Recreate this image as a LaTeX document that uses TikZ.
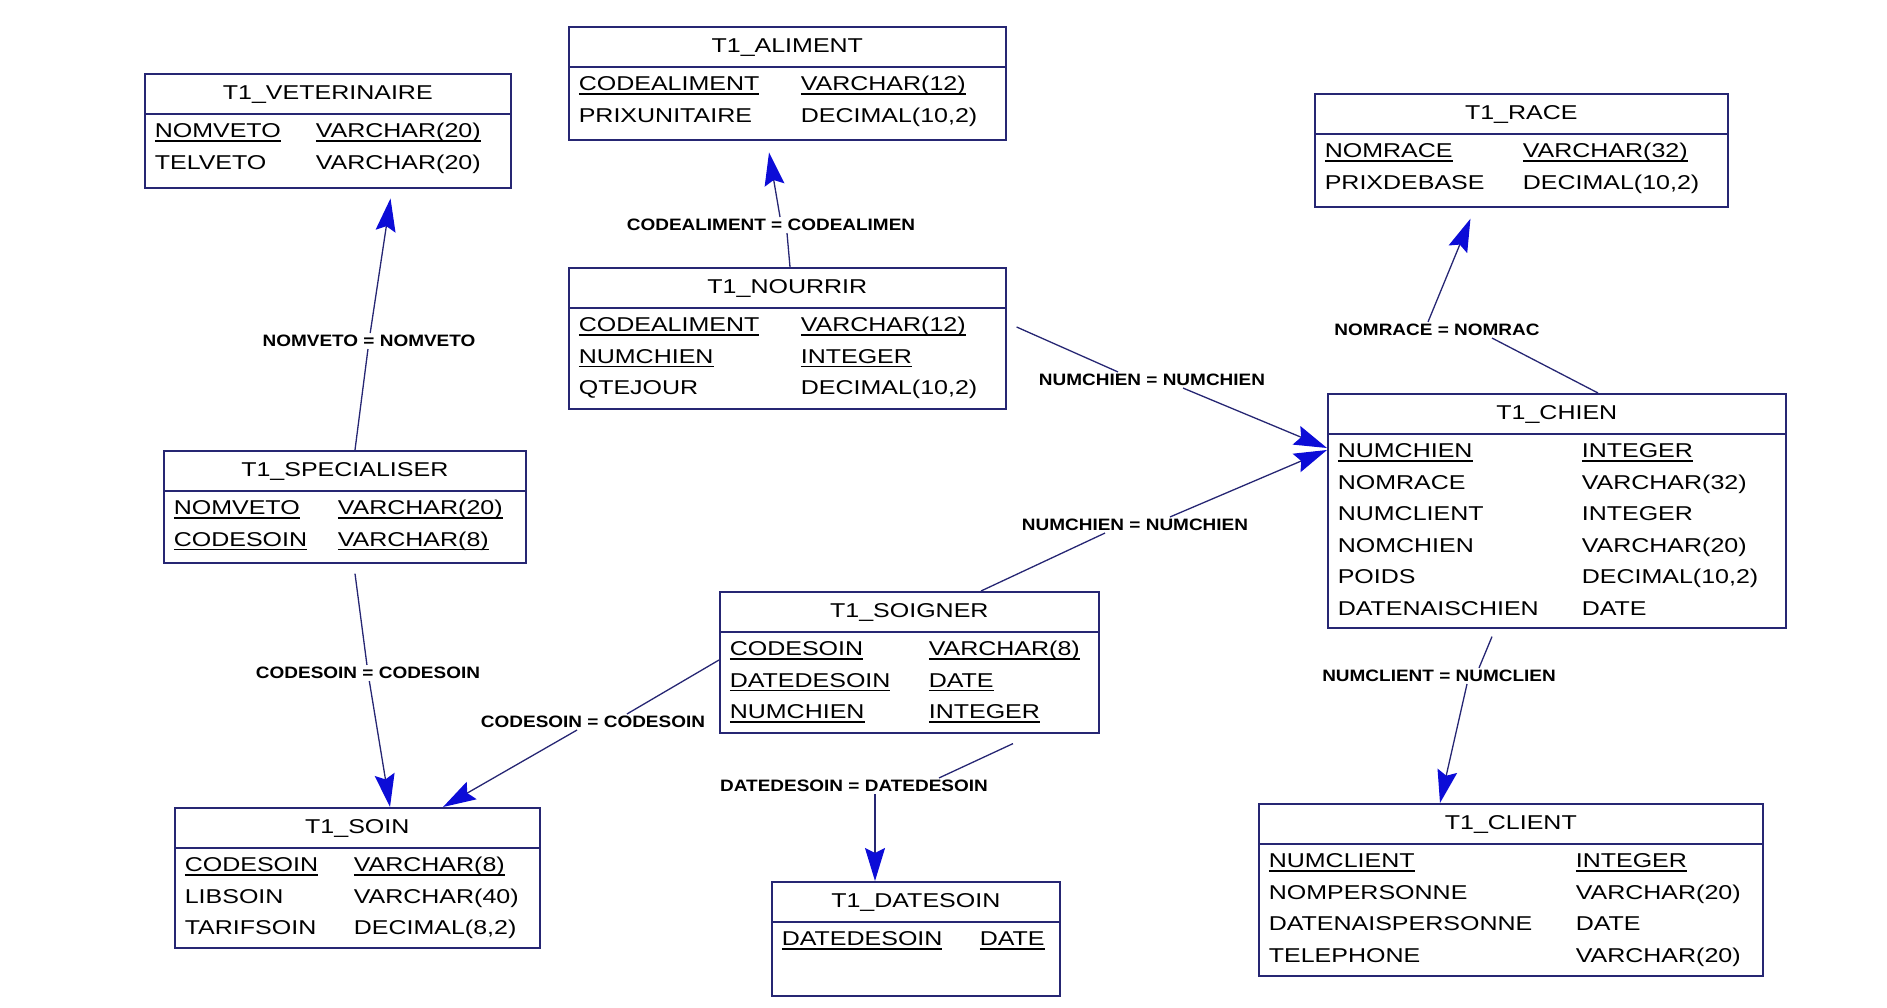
\documentclass[tikz,border=0pt]{standalone}
\usepackage{fontspec}
\setmainfont[FakeStretch=1.25]{Liberation Sans}
\newfontfamily\lblfont[FakeStretch=1.15]{Liberation Sans}
\usepackage{array}
\usepackage{colortbl}
\usetikzlibrary{arrows.meta}
\definecolor{erNavy}{RGB}{38,38,115}
\definecolor{erBlue}{RGB}{12,12,215}
\setlength{\arrayrulewidth}{1.8pt}
\arrayrulecolor{erNavy}
\newcommand{\pk}[1]{\setbox0\hbox{#1}\rlap{\rule[-4pt]{\wd0}{1.4pt}}\box0}
\newcommand{\ertitle}[1]{\multicolumn{2}{@{}c@{}}{\rule[-13pt]{0pt}{39pt}#1}\\\hline\noalign{\vskip1.2pt}}

\begin{document}
\begin{tikzpicture}[x=1pt, y=-1pt,
  ertable/.style={draw=erNavy, line width=1.6pt, fill=white, inner sep=0pt, anchor=north west,
    font=\fontsize{20}{31.5}\selectfont},
  fklabel/.style={font=\lblfont\bfseries\fontsize{16.5}{18}\selectfont, inner sep=2pt},
  fk/.style={draw=erNavy, line width=1.3pt},
  fkarrow/.style={fk, -{Stealth[length=33pt, width=20pt, inset=5pt, color=erBlue]}}]
  \useasboundingbox (0,0) rectangle (1887,1008);

  % tables
  \node[ertable] (veterinaire) at (144,73) {%
    \begin{tabular}{@{\hspace{10pt}}w{l}{161pt}@{}w{l}{195pt}@{}}
      \ertitle{T1\_VETERINAIRE}
      \pk{NOMVETO} & \pk{VARCHAR(20)}\\
      TELVETO & VARCHAR(20)\\[9pt]
    \end{tabular}};

  \node[ertable] (aliment) at (568,26) {%
    \begin{tabular}{@{\hspace{10pt}}w{l}{222pt}@{}w{l}{205pt}@{}}
      \ertitle{T1\_ALIMENT}
      \pk{CODEALIMENT} & \pk{VARCHAR(12)}\\
      PRIXUNITAIRE & DECIMAL(10,2)\\[8pt]
    \end{tabular}};

  \node[ertable] (nourrir) at (568,267) {%
    \begin{tabular}{@{\hspace{10pt}}w{l}{222pt}@{}w{l}{205pt}@{}}
      \ertitle{T1\_NOURRIR}
      \pk{CODEALIMENT} & \pk{VARCHAR(12)}\\
      \pk{NUMCHIEN} & \pk{INTEGER}\\
      QTEJOUR & DECIMAL(10,2)\\[4.5pt]
    \end{tabular}};

  \node[ertable] (race) at (1314,93) {%
    \begin{tabular}{@{\hspace{10pt}}w{l}{198pt}@{}w{l}{205pt}@{}}
      \ertitle{T1\_RACE}
      \pk{NOMRACE} & \pk{VARCHAR(32)}\\
      PRIXDEBASE & DECIMAL(10,2)\\[8pt]
    \end{tabular}};

  \node[ertable] (chien) at (1327,393) {%
    \begin{tabular}{@{\hspace{10pt}}w{l}{244pt}@{}w{l}{204pt}@{}}
      \ertitle{T1\_CHIEN}
      \pk{NUMCHIEN} & \pk{INTEGER}\\
      NOMRACE & VARCHAR(32)\\
      NUMCLIENT & INTEGER\\
      NOMCHIEN & VARCHAR(20)\\
      POIDS & DECIMAL(10,2)\\
      DATENAISCHIEN & DATE\\[3pt]
    \end{tabular}};

  \node[ertable] (specialiser) at (163,450) {%
    \begin{tabular}{@{\hspace{10pt}}w{l}{164pt}@{}w{l}{188pt}@{}}
      \ertitle{T1\_SPECIALISER}
      \pk{NOMVETO} & \pk{VARCHAR(20)}\\
      \pk{CODESOIN} & \pk{VARCHAR(8)}\\[7pt]
    \end{tabular}};

  \node[ertable] (soigner) at (719,591) {%
    \begin{tabular}{@{\hspace{10pt}}w{l}{199pt}@{}w{l}{170pt}@{}}
      \ertitle{T1\_SOIGNER}
      \pk{CODESOIN} & \pk{VARCHAR(8)}\\
      \pk{DATEDESOIN} & \pk{DATE}\\
      \pk{NUMCHIEN} & \pk{INTEGER}\\[4.5pt]
    \end{tabular}};

  \node[ertable] (soin) at (174,807) {%
    \begin{tabular}{@{\hspace{10pt}}w{l}{169pt}@{}w{l}{186pt}@{}}
      \ertitle{T1\_SOIN}
      \pk{CODESOIN} & \pk{VARCHAR(8)}\\
      LIBSOIN & VARCHAR(40)\\
      TARIFSOIN & DECIMAL(8,2)\\[3.5pt]
    \end{tabular}};

  \node[ertable] (datesoin) at (771,881) {%
    \begin{tabular}{@{\hspace{10pt}}w{l}{198pt}@{}w{l}{80pt}@{}}
      \ertitle{T1\_DATESOIN}
      \pk{DATEDESOIN} & \pk{DATE}\\[40.5pt]
    \end{tabular}};

  \node[ertable] (client) at (1258,803) {%
    \begin{tabular}{@{\hspace{10pt}}w{l}{307pt}@{}w{l}{187pt}@{}}
      \ertitle{T1\_CLIENT}
      \pk{NUMCLIENT} & \pk{INTEGER}\\
      NOMPERSONNE & VARCHAR(20)\\
      DATENAISPERSONNE & DATE\\
      TELEPHONE & VARCHAR(20)\\[4pt]
    \end{tabular}};

  % reference labels
  \node[fklabel] (lblVeto) at (369,341) {NOMVETO = NOMVETO};
  \node[fklabel] (lblAliment) at (771,225) {CODEALIMENT = CODEALIMEN};
  \node[fklabel] (lblNourrir) at (1152,380) {NUMCHIEN = NUMCHIEN};
  \node[fklabel] (lblSoigner) at (1135,525) {NUMCHIEN = NUMCHIEN};
  \node[fklabel] (lblRace) at (1437,330) {NOMRACE = NOMRAC};
  \node[fklabel] (lblClient) at (1439,676) {NUMCLIENT = NUMCLIEN};
  \node[fklabel] (lblSpecSoin) at (368,673) {CODESOIN = CODESOIN};
  \node[fklabel] (lblSoigSoin) at (593,722) {CODESOIN = CODESOIN};
  \node[fklabel] (lblDate) at (854,786) {DATEDESOIN = DATEDESOIN};

  % references
  \draw[fk] ([xshift=192pt]specialiser.north west) -- (lblVeto);
  \draw[fkarrow, shorten >=10pt] (lblVeto) -- ([xshift=248pt]veterinaire.south west);

  \draw[fk] ([xshift=222pt]nourrir.north west) -- ([xshift=16pt]lblAliment.south);
  \draw[fkarrow, shorten >=12pt] ([xshift=9pt]lblAliment.north) -- ([xshift=199pt]aliment.south west);

  \draw[fk] ([shift={(10pt,-60pt)}]nourrir.north east) -- ([xshift=-34pt]lblNourrir.north);
  \draw[fkarrow] ([xshift=31pt]lblNourrir.south) -- ([yshift=-55pt]chien.north west);

  \draw[fk] ([xshift=262pt]soigner.north west) -- ([xshift=-30pt]lblSoigner.south);
  \draw[fkarrow] ([xshift=35pt]lblSoigner.north) -- ([yshift=-57pt]chien.north west);

  \draw[fk] ([xshift=271pt]chien.north west) -- ([xshift=55pt]lblRace.south);
  \draw[fkarrow, shorten >=12pt] ([xshift=-9pt]lblRace.north) -- ([xshift=161pt]race.south west);

  \draw[fk] ([shift={(165pt,-8pt)}]chien.south west) -- ([xshift=40pt]lblClient.north);
  \draw[fkarrow] ([xshift=28pt]lblClient.south) -- ([xshift=182pt]client.north west);

  \draw[fk] ([shift={(192pt,-10pt)}]specialiser.south west) -- (lblSpecSoin);
  \draw[fkarrow] (lblSpecSoin) -- ([xshift=216pt]soin.north west);

  \draw[fk] ([yshift=-69pt]soigner.north west) -- ([xshift=34pt]lblSoigSoin.north);
  \draw[fkarrow] ([xshift=-16pt]lblSoigSoin.south) -- ([xshift=269pt]soin.north west);

  \draw[fk] ([shift={(294pt,-10pt)}]soigner.south west) -- ([xshift=85pt]lblDate.north);
  \draw[fkarrow] ([xshift=21pt]lblDate.south) -- ([xshift=104pt]datesoin.north west);
\end{tikzpicture}
\end{document}
